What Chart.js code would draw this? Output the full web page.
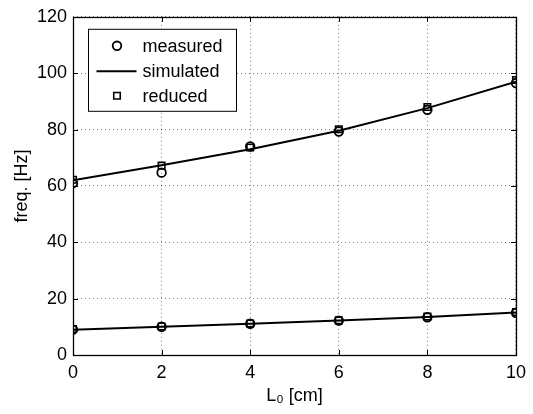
<!DOCTYPE html>
<html>
<head>
<meta charset="utf-8">
<script src="https://cdn.jsdelivr.net/npm/chart.js@4.4.1/dist/chart.umd.min.js"></script>
<style>
  html, body { margin: 0; padding: 0; background: #fff; }
  #wrap { width: 533px; height: 414px; }
</style>
</head>
<body>
<div id="wrap"><canvas id="c" width="533" height="414"></canvas></div>
<script>
// ---- data ----
const L0 = [0, 2, 4, 6, 8, 10];
const measuredHigh = [61.0, 64.7, 74.0, 79.3, 87.0, 96.5];
const measuredLow = [9.0, 10.0, 11.1, 12.2, 13.4, 15.0];
const simulatedHigh = [62.0, 67.3, 73.0, 79.6, 87.6, 97.0];
const simulatedLow = [9.0, 10.0, 11.1, 12.2, 13.5, 15.1];
const reducedHigh = [62.2, 67.2, 73.6, 80.1, 88.0, 97.6];
const reducedLow = [9.2, 10.1, 11.2, 12.3, 13.6, 15.2];
const yTicks = [0, 20, 40, 60, 80, 100, 120];
const xTicks = [0, 2, 4, 6, 8, 10];
const labels = { measured: 'measured', simulated: 'simulated', reduced: 'reduced' };
const xTitle = 'L\u2080 [cm]';
const yTitle = 'freq. [Hz]';

const FONT = 'Liberation Sans, Arial, Helvetica, sans-serif';
const FS = 18;

function pts(xs, ys) { return xs.map((x, i) => ({ x: x, y: ys[i] })); }
function twoBranches(xs, a, b) {
  return pts(xs, a).concat([{ x: xs[xs.length - 1], y: null }]).concat(pts(xs, b));
}

const frameAndTicks = {
  id: 'frameAndTicks',
  afterDatasetsDraw(chart) {
    const { ctx, chartArea: a, scales } = chart;
    ctx.save();
    ctx.strokeStyle = '#000';
    ctx.lineWidth = 1;
    ctx.setLineDash([]);
    const L = 5;
    ctx.beginPath();
    xTicks.forEach(v => {
      const x = Math.round(scales.x.getPixelForValue(v)) + 0.5;
      ctx.moveTo(x, a.bottom); ctx.lineTo(x, a.bottom - L);
      ctx.moveTo(x, a.top); ctx.lineTo(x, a.top + L);
    });
    yTicks.forEach(v => {
      const y = Math.round(scales.y.getPixelForValue(v)) + 0.5;
      ctx.moveTo(a.left, y); ctx.lineTo(a.left + L, y);
      ctx.moveTo(a.right, y); ctx.lineTo(a.right - L, y);
    });
    ctx.stroke();
    ctx.lineWidth = 1.3;
    ctx.strokeRect(Math.round(a.left) + 0.5, Math.round(a.top) + 0.5,
                   Math.round(a.right - a.left), Math.round(a.bottom - a.top));
    ctx.restore();
  }
};

const boxLegend = {
  id: 'boxLegend',
  afterDraw(chart) {
    const { ctx, chartArea: a } = chart;
    const bx = a.left + 15.5, by = a.top + 12.5, bw = 148, bh = 82;
    ctx.save();
    ctx.fillStyle = '#fff';
    ctx.fillRect(bx, by, bw, bh);
    ctx.strokeStyle = '#000';
    ctx.lineWidth = 1;
    ctx.strokeRect(bx, by, bw, bh);
    const rows = [
      { ds: chart.data.datasets[0], y: by + 16.5 },
      { ds: chart.data.datasets[1], y: by + 42 },
      { ds: chart.data.datasets[2], y: by + 66.5 }
    ];
    const sx = bx + 28.5;
    ctx.font = FS + 'px ' + FONT;
    ctx.textBaseline = 'middle';
    rows.forEach(r => {
      const ds = r.ds;
      ctx.strokeStyle = '#000';
      if (ds.showLine === false) {
        ctx.fillStyle = 'rgba(0,0,0,0)';
        ctx.lineWidth = ds.pointBorderWidth;
        Chart.helpers.drawPoint(ctx, {
          pointStyle: ds.pointStyle, radius: ds.pointRadius,
          borderWidth: ds.pointBorderWidth, rotation: 0
        }, sx, r.y);
      } else {
        ctx.lineWidth = ds.borderWidth;
        ctx.beginPath();
        ctx.moveTo(bx + 8, r.y);
        ctx.lineTo(bx + 48, r.y);
        ctx.stroke();
      }
      ctx.fillStyle = '#000';
      ctx.fillText(ds.label, bx + 54, r.y + 1);
    });
    ctx.restore();
  }
};

new Chart(document.getElementById('c'), {
  type: 'scatter',
  data: {
    datasets: [
      {
        label: labels.measured,
        data: pts(L0, measuredHigh).concat(pts(L0, measuredLow)),
        showLine: false,
        pointStyle: 'circle',
        pointRadius: 4.3,
        pointBorderWidth: 1.8,
        pointBorderColor: '#000',
        pointBackgroundColor: 'rgba(0,0,0,0)',
        order: 2
      },
      {
        label: labels.simulated,
        data: twoBranches(L0, simulatedHigh, simulatedLow),
        showLine: true,
        spanGaps: false,
        borderColor: '#000',
        borderWidth: 2,
        pointRadius: 0,
        pointHoverRadius: 0,
        tension: 0,
        order: 1
      },
      {
        label: labels.reduced,
        data: pts(L0, reducedHigh).concat(pts(L0, reducedLow)),
        showLine: false,
        pointStyle: 'rect',
        pointRadius: 4.6,
        pointBorderWidth: 1.6,
        pointBorderColor: '#000',
        pointBackgroundColor: 'rgba(0,0,0,0)',
        order: 3
      }
    ]
  },
  options: {
    responsive: false,
    animation: false,
    devicePixelRatio: 1,
    layout: { padding: { top: 12, right: 14, left: 0, bottom: 0 } },
    plugins: { legend: { display: false }, tooltip: { enabled: false } },
    scales: {
      x: {
        type: 'linear', min: 0, max: 10,
        afterFit: s => { s.height = 59; },
        afterBuildTicks: s => { s.ticks = xTicks.map(v => ({ value: v })); },
        ticks: { color: '#000', font: { family: FONT, size: FS }, padding: 7, maxRotation: 0 },
        grid: { color: 'rgba(0,0,0,0.5)', lineWidth: 1, drawTicks: false },
        border: { display: false, dash: [1, 3] },
        title: { display: true, text: xTitle, color: '#000', font: { family: FONT, size: FS }, padding: { top: 0, bottom: 7 } }
      },
      y: {
        type: 'linear', min: 0, max: 120,
        afterFit: s => { s.width = 73; },
        afterBuildTicks: s => { s.ticks = yTicks.map(v => ({ value: v })); },
        ticks: { color: '#000', font: { family: FONT, size: FS }, padding: 6 },
        grid: { color: 'rgba(0,0,0,0.5)', lineWidth: 1, drawTicks: false },
        border: { display: false, dash: [1, 3] },
        title: { display: true, text: yTitle, color: '#000', font: { family: FONT, size: FS }, padding: { top: 11, bottom: 0 } }
      }
    }
  },
  plugins: [frameAndTicks, boxLegend]
});
</script>
</body>
</html>
